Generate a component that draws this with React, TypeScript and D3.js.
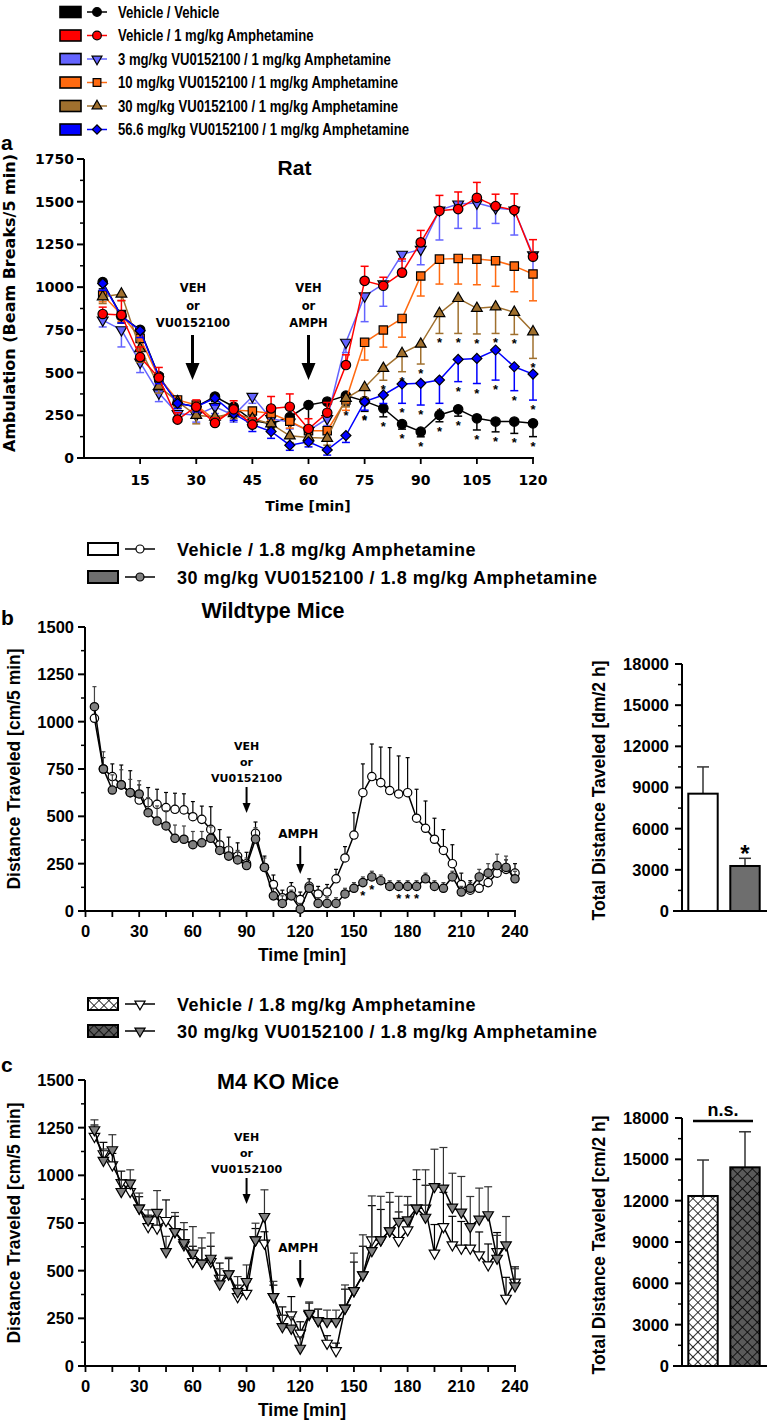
import React from 'react';
import * as d3 from 'd3';

// ---------- data ----------
const aTimes = [5, 10, 15, 20, 25, 30, 35, 40, 45, 50, 55, 60, 65, 70, 75, 80, 85, 90, 95, 100, 105, 110, 115, 120];

const aLabels = [
  'Vehicle / Vehicle',
  'Vehicle / 1 mg/kg Amphetamine',
  '3 mg/kg VU0152100 / 1 mg/kg Amphetamine',
  '10 mg/kg VU0152100 / 1 mg/kg Amphetamine',
  '30 mg/kg VU0152100 / 1 mg/kg Amphetamine',
  '56.6 mg/kg VU0152100 / 1 mg/kg Amphetamine',
];

const aVehVeh = [1030, 830, 750, 480, 320, 300, 360, 300, 220, 200, 240, 310, 330, 365, 333, 291, 199, 154, 252, 285, 232, 213, 213, 203];
const aVehAmph = [843, 837, 590, 470, 225, 300, 205, 285, 195, 290, 300, 170, 265, 544, 1037, 1008, 1085, 1262, 1447, 1457, 1523, 1474, 1451, 1178];
const aVu3 = [807, 750, 560, 380, 260, 250, 300, 250, 360, 230, 210, 160, 230, 677, 948, 1018, 1192, 1221, 1451, 1486, 1492, 1463, 1451, 1188];
const aVu10 = [954, 840, 700, 470, 340, 310, 220, 280, 275, 260, 215, 160, 160, 339, 677, 749, 817, 1065, 1164, 1168, 1164, 1155, 1123, 1077];
const aVu30 = [944, 960, 640, 420, 330, 250, 240, 260, 230, 200, 130, 120, 115, 349, 413, 525, 612, 667, 846, 934, 876, 885, 853, 739];
const aVu56 = [1022, 830, 745, 475, 320, 300, 350, 260, 195, 155, 75, 95, 47, 131, 330, 369, 433, 437, 456, 577, 583, 632, 534, 491];

const aVehVehSem = [40, 40, 40, 40, 30, 40, 30, 30, 30, 30, 40, 140, 60, 60, 60, 50, 30, 30, 40, 40, 68, 60, 69, 78];
const aVehAmphSem = [40, 85, 60, 60, 40, 40, 30, 50, 40, 70, 75, 60, 60, 60, 85, 50, 80, 70, 90, 100, 90, 70, 95, 100];
const aVu3Sem = [40, 100, 60, 50, 40, 40, 40, 40, 40, 40, 40, 40, 40, 60, 150, 130, 40, 90, 175, 142, 148, 90, 146, 90];
const aVu10Sem = [40, 40, 60, 40, 30, 40, 30, 30, 40, 40, 40, 40, 40, 60, 104, 100, 110, 117, 146, 150, 150, 150, 150, 157];
const aVu30Sem = [40, 40, 80, 40, 30, 50, 30, 30, 30, 30, 40, 40, 40, 50, 60, 70, 107, 117, 117, 205, 150, 156, 130, 156];
const aVu56Sem = [40, 40, 40, 40, 30, 30, 40, 40, 40, 40, 30, 30, 30, 40, 50, 50, 113, 127, 136, 130, 147, 176, 140, 152];

// times with a significance star (drawn under the point)
const aStarsVehVeh = [70, 75, 80, 85, 90, 95, 100, 105, 110, 115, 120];
const aStarsVu30 = [80, 85, 90, 95, 100, 105, 110, 115, 120];
const aStarsVu56 = [75, 80, 85, 90, 95, 100, 105, 110, 115, 120];

const mTimes = [5, 10, 15, 20, 25, 30, 35, 40, 45, 50, 55, 60, 65, 70, 75, 80, 85, 90, 95, 100, 105, 110, 115, 120,
  125, 130, 135, 140, 145, 150, 155, 160, 165, 170, 175, 180, 185, 190, 195, 200, 205, 210, 215, 220, 225, 230, 235, 240];

const mLabels = ['Vehicle / 1.8 mg/kg Amphetamine', '30 mg/kg VU0152100 / 1.8 mg/kg Amphetamine'];

const bVehicle = [1018, 750, 710, 666, 625, 586, 572, 563, 546, 537, 534, 498, 484, 431, 350, 320, 290, 250, 410, 230, 140, 70, 110, 60,
  130, 90, 100, 170, 280, 401, 625, 710, 678, 636, 618, 625, 490, 437, 379, 320, 250, 140, 110, 120, 150, 200, 220, 200];
const bVehicleSem = [60, 60, 67, 105, 116, 80, 80, 80, 80, 85, 85, 80, 70, 120, 80, 70, 70, 60, 60, 60, 50, 40, 40, 40,
  40, 40, 40, 50, 60, 118, 152, 172, 188, 227, 201, 185, 153, 144, 111, 110, 100, 60, 50, 40, 40, 50, 50, 50];
const bVU = [1079, 750, 639, 666, 625, 618, 519, 475, 449, 384, 379, 350, 360, 384, 320, 290, 270, 240, 380, 230, 80, 40, 80, 10,
  120, 40, 40, 40, 90, 120, 150, 180, 160, 130, 130, 130, 130, 170, 130, 120, 180, 100, 120, 180, 200, 240, 230, 170];
const bVUSem = [106, 91, 80, 80, 70, 70, 80, 80, 80, 70, 70, 70, 60, 60, 50, 50, 50, 40, 60, 50, 40, 40, 30, 30,
  30, 30, 30, 30, 30, 30, 30, 30, 30, 30, 30, 30, 30, 30, 30, 30, 30, 30, 30, 40, 50, 60, 60, 40];
const bStars = [155, 160, 175, 180, 185];

const cVehicle = [1204, 1113, 1055, 962, 915, 828, 731, 723, 763, 705, 635, 548, 539, 548, 460, 483, 364, 381, 661, 644, 364, 250, 268, 172,
  270, 238, 119, 80, 303, 395, 478, 661, 661, 709, 658, 714, 828, 828, 592, 731, 635, 618, 618, 583, 530, 600, 355, 440];
const cVehicleSem = [60, 60, 60, 60, 60, 60, 60, 60, 108, 80, 80, 80, 80, 80, 80, 80, 60, 60, 60, 60, 60, 60, 96, 60,
  60, 60, 40, 40, 100, 150, 150, 180, 160, 150, 150, 130, 150, 120, 150, 180, 150, 140, 120, 120, 110, 100, 110, 80];
const cVU = [1239, 1078, 1134, 915, 959, 828, 766, 805, 600, 705, 647, 592, 539, 565, 430, 483, 390, 443, 661, 784, 364, 206, 198, 93,
  276, 238, 233, 233, 303, 395, 478, 605, 661, 709, 758, 766, 828, 780, 941, 933, 833, 807, 731, 770, 793, 565, 635, 420];
const cVUSem = [52, 60, 79, 60, 70, 79, 53, 115, 80, 100, 105, 139, 133, 133, 80, 87, 79, 87, 88, 140, 80, 60, 60, 60,
  60, 60, 60, 60, 122, 197, 210, 287, 229, 201, 132, 123, 201, 249, 196, 213, 178, 187, 158, 163, 147, 120, 149, 90];

const barGroups = ['Vehicle', 'VU0152100'];
const bBarTotals = [8550, 3280];
const bBarSem = [1950, 560];
const cBarTotals = [12340, 14420];
const cBarSem = [2610, 2580];

// ---------- layout ----------
const W = 772;
const H = 1423;
const fA = "'DejaVu Sans', Verdana, sans-serif";
const fB = "'Liberation Sans', Arial, Helvetica, sans-serif";

const xA = d3.scaleLinear().domain([0, 120]).range([84, 533]);
const yA = d3.scaleLinear().domain([0, 1750]).range([458, 159]);
const xM = d3.scaleLinear().domain([0, 240]).range([85.5, 515]);
const yB = d3.scaleLinear().domain([0, 1500]).range([911, 627]);
const yC = d3.scaleLinear().domain([0, 1500]).range([1366, 1080]);
const yBBar = d3.scaleLinear().domain([0, 18000]).range([911, 664]);
const yCBar = d3.scaleLinear().domain([0, 18000]).range([1366, 1118]);
const xBar = d3.scaleBand().domain(barGroups).range([682, 766]).paddingInner(0.3).paddingOuter(0.15);

const symPath = (kind: string, size: number) => {
  const type = kind === 'circle' ? d3.symbolCircle
    : kind === 'square' || kind === 'diamond' ? d3.symbolSquare
    : d3.symbolTriangle;
  return d3.symbol().type(type).size(size)() as string;
};

function Marker({ kind, x, y, fill, size, sw = 1.2 }: any) {
  const rot = kind === 'diamond' ? 45 : kind === 'tridown' ? 180 : 0;
  return (
    <path d={symPath(kind, size)} transform={`translate(${x},${y}) rotate(${rot})`}
      fill={fill} stroke="#000" strokeWidth={sw} />
  );
}

function YAxis({ scale, x, major, minor, font, size, gap, spacing = 0 }: any) {
  const [r0, r1] = scale.range();
  return (
    <g>
      <line x1={x} x2={x} y1={r0 + 1} y2={r1} stroke="#000" strokeWidth={2} />
      {minor.map((v: number) => (
        <line key={'m' + v} x1={x - 4} x2={x} y1={scale(v)} y2={scale(v)} stroke="#000" strokeWidth={1.5} />
      ))}
      {major.map((v: number) => (
        <g key={v}>
          <line x1={x - 7} x2={x} y1={scale(v)} y2={scale(v)} stroke="#000" strokeWidth={2} />
          <text x={x - gap} y={scale(v)} dy="0.36em" textAnchor="end" fontFamily={font}
            fontWeight="bold" fontSize={size} letterSpacing={spacing}>{v}</text>
        </g>
      ))}
    </g>
  );
}

function XAxis({ scale, y, ticks, labels, font, size, labelY }: any) {
  const [r0, r1] = scale.range();
  return (
    <g>
      <line x1={r0 - 1} x2={r1 + 1} y1={y} y2={y} stroke="#000" strokeWidth={2} />
      {ticks.map((t: number) => (
        <line key={'t' + t} x1={scale(t)} x2={scale(t)} y1={y} y2={y + 6} stroke="#000" strokeWidth={1.8} />
      ))}
      {labels.map((t: number) => (
        <text key={'l' + t} x={scale(t)} y={labelY} textAnchor="middle" fontFamily={font}
          fontWeight="bold" fontSize={size}>{t}</text>
      ))}
    </g>
  );
}

function Arrow({ x, y1, y2, w, head, sw }: any) {
  return (
    <g>
      <line x1={x} x2={x} y1={y1} y2={y2 - head + 1} stroke="#000" strokeWidth={sw} />
      <path d={`M${x - w / 2},${y2 - head}L${x + w / 2},${y2 - head}L${x},${y2}Z`} fill="#000" />
    </g>
  );
}

function Series({ times, values, sem, x, y, color, fill, kind, size, dir, cap, lineW, errW, errColor }: any) {
  const line = d3.line<number>().x((_, i) => x(times[i])).y((d) => y(d));
  return (
    <g>
      {values.map((v: number, i: number) => {
        const px = x(times[i]);
        const e = y(v + dir * sem[i]);
        return (
          <g key={'e' + i} stroke={errColor || color} strokeWidth={errW}>
            <line x1={px} x2={px} y1={y(v)} y2={e} />
            <line x1={px - cap} x2={px + cap} y1={e} y2={e} />
          </g>
        );
      })}
      <path d={line(values) as string} fill="none" stroke={color} strokeWidth={lineW} />
      {values.map((v: number, i: number) => (
        <Marker key={'m' + i} kind={kind} x={x(times[i])} y={y(v)} fill={fill} size={size} />
      ))}
    </g>
  );
}

const aSeries = [
  { values: aVehVeh, sem: aVehVehSem, color: '#000000', kind: 'circle', size: 70, dir: -1, stars: aStarsVehVeh },
  { values: aVehAmph, sem: aVehAmphSem, color: '#ff0000', kind: 'circle', size: 70, dir: 1, stars: [] },
  { values: aVu3, sem: aVu3Sem, color: '#6464ff', kind: 'tridown', size: 50, dir: -1, stars: [] },
  { values: aVu10, sem: aVu10Sem, color: '#ff6a10', kind: 'square', size: 70, dir: -1, stars: [] },
  { values: aVu30, sem: aVu30Sem, color: '#a0702e', kind: 'triangle', size: 50, dir: -1, stars: aStarsVu30 },
  { values: aVu56, sem: aVu56Sem, color: '#0000ff', kind: 'diamond', size: 50, dir: -1, stars: aStarsVu56 },
];
const aDrawOrder = [0, 2, 3, 4, 5, 1];

function PanelA() {
  return (
    <g>
      {aLabels.map((lab, i) => {
        const cy = 12 + i * 23.5;
        const s = aSeries[i];
        return (
          <g key={lab}>
            <rect x={60} y={cy - 5.5} width={21} height={11} fill={s.color} stroke="#000" strokeWidth={1.6} />
            <line x1={87} x2={107} y1={cy} y2={cy} stroke={s.color} strokeWidth={1.5} />
            <Marker kind={s.kind} x={97} y={cy} fill={s.color} size={s.size * 0.85} />
            <g transform={`translate(118,${cy + 5.7}) scale(0.82,1)`}>
              <text fontFamily={fB} fontWeight="bold" fontSize={16}>{lab}</text>
            </g>
          </g>
        );
      })}
      <text x={1} y={150} fontFamily={fB} fontWeight="bold" fontSize={21}>a</text>
      <text x={294.5} y={175} textAnchor="middle" fontFamily={fB} fontWeight="bold" fontSize={21}>Rat</text>
      <YAxis scale={yA} x={84} major={d3.range(0, 1751, 250)} minor={d3.range(125, 1750, 250)} font={fA} size={14} gap={10} />
      <XAxis scale={xA} y={458} ticks={d3.range(15, 121, 15)} labels={d3.range(15, 121, 15)} font={fA} size={14} labelY={485} />
      <text x={308} y={511} textAnchor="middle" fontFamily={fA} fontWeight="bold" fontSize={14}>Time [min]</text>
      <text transform="translate(15,303) rotate(-90)" textAnchor="middle" fontFamily={fA} fontWeight="bold" fontSize={16}>
        Ambulation (Beam Breaks/5 min)
      </text>
      {['VEH', 'or', 'VU0152100'].map((t, i) => (
        <text key={t} x={193} y={292 + i * 17.5} textAnchor="middle" fontFamily={fA} fontWeight="bold" fontSize={11.5}>{t}</text>
      ))}
      <Arrow x={xA(29)} y1={335} y2={380} w={14} head={17} sw={3} />
      {['VEH', 'or', 'AMPH'].map((t, i) => (
        <text key={t} x={xA(60)} y={292 + i * 17.5} textAnchor="middle" fontFamily={fA} fontWeight="bold" fontSize={11.5}>{t}</text>
      ))}
      <Arrow x={xA(60)} y1={335} y2={380} w={14} head={17} sw={3} />
      {aDrawOrder.map((k) => {
        const s = aSeries[k];
        return (
          <Series key={k} times={aTimes} values={s.values} sem={s.sem} x={xA} y={yA} color={s.color}
            fill={s.color} kind={s.kind} size={s.size} dir={s.dir} cap={4} lineW={1.5} errW={1.5} />
        );
      })}
      {aSeries.map((s, k) => s.stars.map((t: number) => {
        const i = aTimes.indexOf(t);
        return (
          <text key={k + '-' + t} x={xA(t)} y={yA(s.values[i] - s.sem[i]) + 14} textAnchor="middle"
            fontFamily={fB} fontWeight="bold" fontSize={13}>*</text>
        );
      }))}
    </g>
  );
}

function Legend2({ y0, kind, fills, swatches }: any) {
  return (
    <g>
      {mLabels.map((lab, i) => {
        const cy = y0[i];
        return (
          <g key={lab}>
            <rect x={88} y={cy - 6} width={30} height={12} fill={swatches[i]} stroke="#000" strokeWidth={2} />
            <line x1={125} x2={155} y1={cy} y2={cy} stroke="#000" strokeWidth={1.5} />
            <Marker kind={kind} x={140} y={cy} fill={fills[i]} size={kind === 'circle' ? 50 : 45} />
            <text x={177} y={cy + 6.5} fontFamily={fB} fontWeight="bold" fontSize={18} letterSpacing={0.5}>{lab}</text>
          </g>
        );
      })}
    </g>
  );
}

function MiceAxes({ y, base, title, titleX, titleY, letter, letterY, vehY, amphY }: any) {
  return (
    <g>
      <text x={1} y={letterY} fontFamily={fB} fontWeight="bold" fontSize={21}>{letter}</text>
      <text x={titleX} y={titleY} textAnchor="middle" fontFamily={fB} fontWeight="bold" fontSize={21.5}>{title}</text>
      <YAxis scale={y} x={85} major={d3.range(0, 1501, 250)} minor={d3.range(125, 1500, 250)} font={fB} size={16.5} gap={11} />
      <XAxis scale={xM} y={base} ticks={d3.range(0, 241, 15)} labels={d3.range(0, 241, 30)} font={fB} size={16.5} labelY={base + 26} />
      <text x={302} y={base + 50} textAnchor="middle" fontFamily={fB} fontWeight="bold" fontSize={17.5}>Time [min]</text>
      <text transform={`translate(20,${(y(0) + y(1500)) / 2}) rotate(-90)`} textAnchor="middle" fontFamily={fB}
        fontWeight="bold" fontSize={17.5}>Distance Traveled [cm/5 min]</text>
      {['VEH', 'or', 'VU0152100'].map((t, i) => (
        <text key={t} x={xM(90)} y={vehY + i * 16} textAnchor="middle" fontFamily={fA} fontWeight="bold" fontSize={11}>{t}</text>
      ))}
      <Arrow x={xM(90)} y1={vehY + 37} y2={vehY + 63} w={8} head={10} sw={2} />
      <text x={xM(120) - 2} y={amphY} textAnchor="middle" fontFamily={fA} fontWeight="bold" fontSize={12}>AMPH</text>
      <Arrow x={xM(120)} y1={amphY + 8} y2={amphY + 36} w={8} head={10} sw={2} />
    </g>
  );
}

function BarAxes({ y, label }: any) {
  const base = y(0);
  return (
    <g>
      <YAxis scale={y} x={682} major={d3.range(0, 18001, 3000)} minor={d3.range(1500, 18000, 3000)} font={fB} size={16.5} gap={13} />
      <line x1={673} x2={767} y1={base} y2={base} stroke="#000" strokeWidth={2} />
      <text transform={`translate(605,${(y(0) + y(18000)) / 2 + 3}) rotate(-90)`} textAnchor="middle" fontFamily={fB}
        fontWeight="bold" fontSize={17.5}>{label}</text>
    </g>
  );
}

function Bars({ y, totals, sem, fills }: any) {
  const bw = xBar.bandwidth();
  return (
    <g>
      {barGroups.map((g, i) => {
        const x0 = xBar(g) as number;
        const cx = x0 + bw / 2;
        return (
          <g key={g}>
            <line x1={cx} x2={cx} y1={y(totals[i])} y2={y(totals[i] + sem[i])} stroke="#333" strokeWidth={1.5} />
            <line x1={cx - 6} x2={cx + 6} y1={y(totals[i] + sem[i])} y2={y(totals[i] + sem[i])} stroke="#333" strokeWidth={1.5} />
            <rect x={x0} y={y(totals[i])} width={bw} height={y(0) - y(totals[i])} fill={fills[i]} stroke="#000" strokeWidth={2} />
          </g>
        );
      })}
    </g>
  );
}

function PanelB() {
  return (
    <g>
      <Legend2 y0={[549, 577]} kind="circle" fills={['#ffffff', '#808080']} swatches={['#ffffff', '#6e6e6e']} />
      <MiceAxes y={yB} base={911} title="Wildtype Mice" titleX={273} titleY={618} letter="b" letterY={625} vehY={750} amphY={838} />
      <Series times={mTimes} values={bVehicle} sem={bVehicleSem} x={xM} y={yB} color="#000" fill="#fff"
        kind="circle" size={55} dir={1} cap={2} lineW={1.5} errW={1.2} />
      <Series times={mTimes} values={bVU} sem={bVUSem} x={xM} y={yB} color="#000" fill="#808080"
        kind="circle" size={55} dir={1} cap={2} lineW={1.5} errW={1.2} errColor="#444" />
      {bStars.map((t) => (
        <text key={t} x={xM(t)} y={yB(bVU[mTimes.indexOf(t)]) + 17} textAnchor="middle" fontFamily={fB}
          fontWeight="bold" fontSize={13}>*</text>
      ))}
      <BarAxes y={yBBar} label="Total Distance Taveled [dm/2 h]" />
      <Bars y={yBBar} totals={bBarTotals} sem={bBarSem} fills={['#ffffff', '#6e6e6e']} />
      <text x={(xBar('VU0152100') as number) + xBar.bandwidth() / 2} y={862} textAnchor="middle" fontFamily={fB}
        fontWeight="bold" fontSize={24}>*</text>
    </g>
  );
}

function PanelC() {
  const nsX0 = 693;
  const nsX1 = 753;
  return (
    <g>
      <Legend2 y0={[1004, 1031]} kind="tridown" fills={['#ffffff', '#808080']} swatches={['url(#xhW)', 'url(#xhD)']} />
      <MiceAxes y={yC} base={1366} title="M4 KO Mice" titleX={278} titleY={1089} letter="c" letterY={1072} vehY={1141} amphY={1252} />
      <Series times={mTimes} values={cVehicle} sem={cVehicleSem} x={xM} y={yC} color="#000" fill="#fff"
        kind="tridown" size={48} dir={1} cap={4} lineW={1.5} errW={1.2} />
      <Series times={mTimes} values={cVU} sem={cVUSem} x={xM} y={yC} color="#000" fill="#808080"
        kind="tridown" size={48} dir={1} cap={4} lineW={1.5} errW={1.2} errColor="#333" />
      <BarAxes y={yCBar} label="Total Distance Taveled [cm/2 h]" />
      <Bars y={yCBar} totals={cBarTotals} sem={cBarSem} fills={['url(#xhW)', 'url(#xhD)']} />
      <line x1={nsX0} x2={nsX1} y1={1121} y2={1121} stroke="#000" strokeWidth={2.5} />
      <text x={(nsX0 + nsX1) / 2} y={1116} textAnchor="middle" fontFamily={fB} fontWeight="bold" fontSize={18}>n.s.</text>
    </g>
  );
}

export default function App() {
  return (
    <div style={{ position: 'absolute', left: 0, top: 0 }}>
      <svg width={W} height={H} viewBox={`0 0 ${W} ${H}`} style={{ display: 'block', background: '#fff' }}>
        <defs>
          <pattern id="xhW" width={7} height={7} patternUnits="userSpaceOnUse" patternTransform="rotate(45)">
            <rect width={7} height={7} fill="#ffffff" />
            <line x1={0} x2={0} y1={0} y2={7} stroke="#000" strokeWidth={1.6} />
            <line x1={0} x2={7} y1={0} y2={0} stroke="#000" strokeWidth={1.6} />
          </pattern>
          <pattern id="xhD" width={7} height={7} patternUnits="userSpaceOnUse" patternTransform="rotate(45)">
            <rect width={7} height={7} fill="#5a5a5a" />
            <line x1={0} x2={0} y1={0} y2={7} stroke="#000" strokeWidth={1.6} />
            <line x1={0} x2={7} y1={0} y2={0} stroke="#000" strokeWidth={1.6} />
          </pattern>
        </defs>
        <rect width={W} height={H} fill="#fff" />
        <PanelA />
        <PanelB />
        <PanelC />
      </svg>
    </div>
  );
}
